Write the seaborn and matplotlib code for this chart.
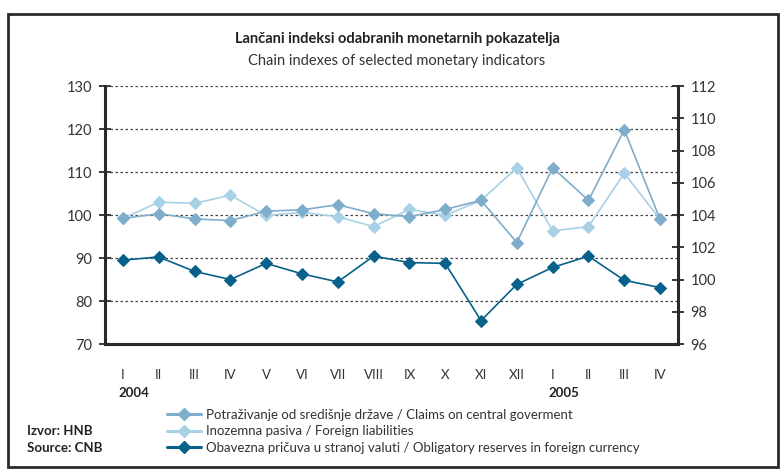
import matplotlib
matplotlib.use('Agg')
import matplotlib.pyplot as plt
import seaborn as sns
import numpy as np
from matplotlib.patches import Rectangle
from matplotlib.lines import Line2D

# data
months = ['I', 'II', 'III', 'IV', 'V', 'VI', 'VII', 'VIII', 'IX', 'X', 'XI', 'XII',
          'I', 'II', 'III', 'IV']
years = ['2004', '2005']
year_start = [0, 12]

claims = [99.2, 100.3, 99.1, 98.7, 100.9, 101.2, 102.4, 100.3, 99.6, 101.3,
          103.4, 93.6, 111.0, 103.4, 119.8, 99.0]
foreign = [99.2, 103.0, 102.7, 104.6, 99.9, 100.6, 99.6, 97.3, 101.3, 99.9,
           103.4, 111.0, 96.3, 97.3, 109.7, 99.0]
reserves = [101.2, 101.4, 100.5, 100.0, 101.0, 100.35, 99.85, 101.45, 101.05, 101.0,
            97.45, 99.7, 100.75, 101.45, 99.95, 99.5]

labels = ['Potraživanje od središnje države / Claims on central goverment',
          'Inozemna pasiva / Foreign liabilities',
          'Obavezna pričuva u stranoj valuti / Obligatory reserves in foreign currency']
colors = ['#7eaecb', '#a8d1e6', '#07618a']

sns.set_style('white')
plt.rcParams['font.family'] = ['Lato', 'DejaVu Sans']

fig = plt.figure(figsize=(7.81, 4.69), dpi=100)
ax = fig.add_axes([105 / 781, 1 - 344 / 469, (678 - 105) / 781, (344 - 86) / 469])
ax2 = ax.twinx()

x = np.arange(len(months))
sns.lineplot(x=x, y=claims, ax=ax, color=colors[0], marker='D', markersize=6.3,
             markeredgecolor=colors[0], linewidth=1.2, zorder=3)
sns.lineplot(x=x, y=foreign, ax=ax, color=colors[1], marker='D', markersize=6.3,
             markeredgecolor=colors[1], linewidth=1.2, zorder=2)
sns.lineplot(x=x, y=reserves, ax=ax2, color=colors[2], marker='D', markersize=6.3,
             markeredgecolor=colors[2], linewidth=1.2, zorder=3)

ax.set_xlim(-0.5, len(months) - 0.5)
ax.set_ylim(70, 130)
ax2.set_ylim(96, 112)
ax.set_yticks(np.arange(70, 131, 10))
ax2.set_yticks(np.arange(96, 113, 2))

# dotted grid from left axis
for v in range(80, 131, 10):
    ax.axhline(v, color='#444444', linestyle=(0, (2, 2)), linewidth=0.9, zorder=1)

spine_c = '#2a2a2a'
for a in (ax, ax2):
    a.spines['top'].set_visible(False)
    for s in ('left', 'right', 'bottom'):
        a.spines[s].set_color(spine_c)
        a.spines[s].set_linewidth(2.2)
ax.spines['right'].set_visible(False)
ax2.spines['left'].set_visible(False)

ax.set_xticks(x)
ax.set_xticklabels(months)
ax.set_xticks(np.arange(-0.5, len(months), 1.0), minor=True)
ax.tick_params(axis='x', which='major', length=0, pad=18, labelsize=9.5, labelcolor='#333333')
ax.tick_params(axis='x', which='minor', direction='inout', length=8, width=1.3, color=spine_c)
ax.tick_params(axis='y', direction='inout', length=8, width=1.3, color=spine_c,
               labelsize=10.5, labelcolor='#333333', pad=5, left=True)
ax2.tick_params(axis='y', direction='inout', length=8, width=1.3, color=spine_c,
                labelsize=10.5, labelcolor='#333333', pad=5, right=True)
ax.set_xlabel('')
ax.set_ylabel('')
ax2.set_ylabel('')

for yr, pos in zip(years, year_start):
    ax.text(pos - 0.12, -0.19, yr, transform=ax.get_xaxis_transform(),
            fontsize=9.5, fontweight='bold', color='#222222', ha='left', va='center')

fig.text(397 / 781, 1 - 39 / 469, 'Lančani indeksi odabranih monetarnih pokazatelja',
         ha='center', va='center', fontsize=10.5, fontweight='bold', color='#222222')
fig.text(397 / 781, 1 - 61 / 469, 'Chain indexes of selected monetary indicators',
         ha='center', va='center', fontsize=10.5, color='#333333')

fig.text(27 / 781, 1 - 431 / 469, 'Izvor: HNB', ha='left', va='center',
         fontsize=9.5, fontweight='bold', color='#222222')
fig.text(27 / 781, 1 - 448 / 469, 'Source: CNB', ha='left', va='center',
         fontsize=9.5, fontweight='bold', color='#222222')

handles = [Line2D([0], [0], color=c, marker='D', markersize=6, linewidth=2.2,
                  markeredgecolor=c) for c in colors]
fig.legend(handles=handles, labels=labels, loc='upper left',
           bbox_to_anchor=(160 / 781, 1 - 402 / 469), frameon=False,
           fontsize=9.5, handlelength=2.6, handletextpad=0.4, labelspacing=0.35,
           borderpad=0, labelcolor='#333333')

fig.add_artist(Rectangle((8 / 781, 1 - 467 / 469), 770 / 781, 453 / 469,
                         transform=fig.transFigure, fill=False,
                         edgecolor='#2a2a2a', linewidth=2))

fig.savefig('out.png', dpi=100)
